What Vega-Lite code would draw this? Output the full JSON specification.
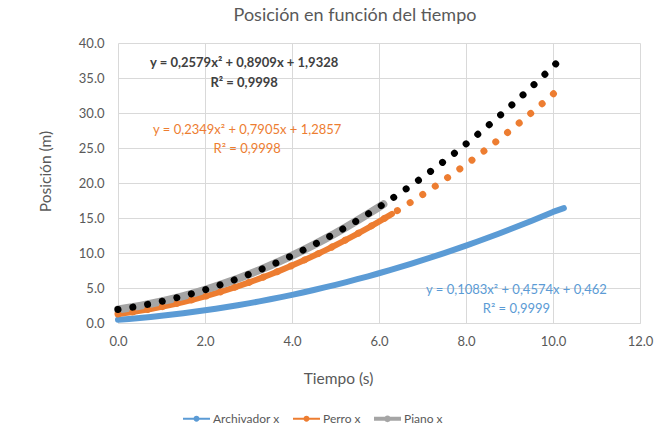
{
  "$schema": "https://vega.github.io/schema/vega-lite/v6.json",
  "width": 522,
  "height": 280,
  "autosize": {"type": "none"},
  "padding": {"left": 118, "top": 43, "right": 17, "bottom": 108},
  "background": "white",
  "title": {"text": "Posición en función del tiempo", "font": "Lato", "fontSize": 18, "fontWeight": "normal", "color": "#595959", "anchor": "middle", "dx": -24, "offset": 12},
  "config": {
    "view": {"stroke": null},
    "font": "Lato",
    "axis": {"labelFont": "Lato", "labelFontSize": 13, "labelColor": "#595959", "ticks": false, "domainColor": "#d9d9d9", "gridColor": "#d9d9d9", "gridWidth": 1, "titleFont": "Lato", "titleFontSize": 15.5, "titleColor": "#595959", "titleFontWeight": "normal", "labelOverlap": false, "labelFlush": false, "labelBound": false}
  },
  "datasets": {
    "series": [
      {"series": "Archivador x", "x": 0, "y": 0.462},
      {"series": "Archivador x", "x": 0.25, "y": 0.583},
      {"series": "Archivador x", "x": 0.5, "y": 0.718},
      {"series": "Archivador x", "x": 0.75, "y": 0.866},
      {"series": "Archivador x", "x": 1.0, "y": 1.028},
      {"series": "Archivador x", "x": 1.25, "y": 1.203},
      {"series": "Archivador x", "x": 1.5, "y": 1.392},
      {"series": "Archivador x", "x": 1.75, "y": 1.594},
      {"series": "Archivador x", "x": 2.0, "y": 1.81},
      {"series": "Archivador x", "x": 2.25, "y": 2.039},
      {"series": "Archivador x", "x": 2.5, "y": 2.282},
      {"series": "Archivador x", "x": 2.75, "y": 2.539},
      {"series": "Archivador x", "x": 3.0, "y": 2.809},
      {"series": "Archivador x", "x": 3.25, "y": 3.093},
      {"series": "Archivador x", "x": 3.5, "y": 3.39},
      {"series": "Archivador x", "x": 3.75, "y": 3.7},
      {"series": "Archivador x", "x": 4.0, "y": 4.024},
      {"series": "Archivador x", "x": 4.25, "y": 4.362},
      {"series": "Archivador x", "x": 4.5, "y": 4.713},
      {"series": "Archivador x", "x": 4.75, "y": 5.078},
      {"series": "Archivador x", "x": 5.0, "y": 5.457},
      {"series": "Archivador x", "x": 5.25, "y": 5.848},
      {"series": "Archivador x", "x": 5.5, "y": 6.254},
      {"series": "Archivador x", "x": 5.75, "y": 6.673},
      {"series": "Archivador x", "x": 6.0, "y": 7.105},
      {"series": "Archivador x", "x": 6.25, "y": 7.551},
      {"series": "Archivador x", "x": 6.5, "y": 8.011},
      {"series": "Archivador x", "x": 6.75, "y": 8.484},
      {"series": "Archivador x", "x": 7.0, "y": 8.971},
      {"series": "Archivador x", "x": 7.25, "y": 9.471},
      {"series": "Archivador x", "x": 7.5, "y": 9.984},
      {"series": "Archivador x", "x": 7.75, "y": 10.512},
      {"series": "Archivador x", "x": 8.0, "y": 11.052},
      {"series": "Archivador x", "x": 8.25, "y": 11.607},
      {"series": "Archivador x", "x": 8.5, "y": 12.175},
      {"series": "Archivador x", "x": 8.75, "y": 12.756},
      {"series": "Archivador x", "x": 9.0, "y": 13.351},
      {"series": "Archivador x", "x": 9.25, "y": 13.959},
      {"series": "Archivador x", "x": 9.5, "y": 14.581},
      {"series": "Archivador x", "x": 9.75, "y": 15.217},
      {"series": "Archivador x", "x": 10.0, "y": 15.866},
      {"series": "Archivador x", "x": 10.25, "y": 16.4},
      {"series": "Perro x", "x": 0, "y": 1.286},
      {"series": "Perro x", "x": 0.25, "y": 1.498},
      {"series": "Perro x", "x": 0.5, "y": 1.74},
      {"series": "Perro x", "x": 0.75, "y": 2.011},
      {"series": "Perro x", "x": 1.0, "y": 2.311},
      {"series": "Perro x", "x": 1.25, "y": 2.641},
      {"series": "Perro x", "x": 1.5, "y": 3.0},
      {"series": "Perro x", "x": 1.75, "y": 3.389},
      {"series": "Perro x", "x": 2.0, "y": 3.806},
      {"series": "Perro x", "x": 2.25, "y": 4.254},
      {"series": "Perro x", "x": 2.5, "y": 4.73},
      {"series": "Perro x", "x": 2.75, "y": 5.236},
      {"series": "Perro x", "x": 3.0, "y": 5.771},
      {"series": "Perro x", "x": 3.25, "y": 6.336},
      {"series": "Perro x", "x": 3.5, "y": 6.93},
      {"series": "Perro x", "x": 3.75, "y": 7.553},
      {"series": "Perro x", "x": 4.0, "y": 8.206},
      {"series": "Perro x", "x": 4.25, "y": 8.888},
      {"series": "Perro x", "x": 4.5, "y": 9.6},
      {"series": "Perro x", "x": 4.75, "y": 10.34},
      {"series": "Perro x", "x": 5.0, "y": 11.111},
      {"series": "Perro x", "x": 5.25, "y": 11.91},
      {"series": "Perro x", "x": 5.5, "y": 12.739},
      {"series": "Perro x", "x": 5.75, "y": 13.598},
      {"series": "Perro x", "x": 6.0, "y": 14.485},
      {"series": "Perro x", "x": 6.3, "y": 15.589},
      {"series": "Piano x", "x": 0, "y": 1.933},
      {"series": "Piano x", "x": 0.25, "y": 2.172},
      {"series": "Piano x", "x": 0.5, "y": 2.443},
      {"series": "Piano x", "x": 0.75, "y": 2.746},
      {"series": "Piano x", "x": 1.0, "y": 3.082},
      {"series": "Piano x", "x": 1.25, "y": 3.449},
      {"series": "Piano x", "x": 1.5, "y": 3.85},
      {"series": "Piano x", "x": 1.75, "y": 4.282},
      {"series": "Piano x", "x": 2.0, "y": 4.746},
      {"series": "Piano x", "x": 2.25, "y": 5.243},
      {"series": "Piano x", "x": 2.5, "y": 5.772},
      {"series": "Piano x", "x": 2.75, "y": 6.333},
      {"series": "Piano x", "x": 3.0, "y": 6.927},
      {"series": "Piano x", "x": 3.25, "y": 7.552},
      {"series": "Piano x", "x": 3.5, "y": 8.21},
      {"series": "Piano x", "x": 3.75, "y": 8.9},
      {"series": "Piano x", "x": 4.0, "y": 9.623},
      {"series": "Piano x", "x": 4.25, "y": 10.377},
      {"series": "Piano x", "x": 4.5, "y": 11.164},
      {"series": "Piano x", "x": 4.75, "y": 11.984},
      {"series": "Piano x", "x": 5.0, "y": 12.835},
      {"series": "Piano x", "x": 5.25, "y": 13.718},
      {"series": "Piano x", "x": 5.5, "y": 14.634},
      {"series": "Piano x", "x": 5.75, "y": 15.582},
      {"series": "Piano x", "x": 6.0, "y": 16.563},
      {"series": "Piano x", "x": 6.1, "y": 16.964}
    ],
    "notes": [
      {"series": "Piano x", "x": 2.9, "y": 37.1, "label": "y = 0,2579x² + 0,8909x + 1,9328"},
      {"series": "Piano x", "x": 2.9, "y": 34.3, "label": "R² = 0,9998"},
      {"series": "Perro x", "x": 2.97, "y": 27.6, "label": "y = 0,2349x² + 0,7905x + 1,2857"},
      {"series": "Perro x", "x": 2.97, "y": 24.9, "label": "R² = 0,9998"},
      {"series": "Archivador x", "x": 9.16, "y": 4.7, "label": "y = 0,1083x² + 0,4574x + 0,462"},
      {"series": "Archivador x", "x": 9.16, "y": 2.0, "label": "R² = 0,9999"}
    ]
  },
  "layer": [
    {
      "data": {"name": "series"},
      "transform": [{"filter": "datum.series !== 'Piano x'"}],
      "mark": {"type": "line", "strokeWidth": 6, "strokeCap": "round", "strokeJoin": "round"},
      "encoding": {
        "x": {"field": "x", "type": "quantitative", "scale": {"domain": [0, 12], "nice": false}, "axis": {"values": [0, 2, 4, 6, 8, 10, 12], "tickCount": 20, "format": ".1f", "labelPadding": 12, "title": "Tiempo (s)", "titleX": 220, "titleY": 55, "titleBaseline": "middle", "grid": true, "domain": true}},
        "y": {"field": "y", "type": "quantitative", "scale": {"domain": [0, 40], "nice": false}, "axis": {"values": [0, 5, 10, 15, 20, 25, 30, 35, 40], "tickCount": 20, "format": ".1f", "labelPadding": 14, "title": "Posición (m)", "titleX": -73, "titleY": 128, "titleBaseline": "middle", "titleAlign": "center", "grid": true, "domain": false}},
        "color": {"field": "series", "type": "nominal", "scale": {"domain": ["Archivador x", "Perro x", "Piano x"], "range": ["#5B9BD5", "#ED7D31", "#A5A5A5"]},
          "legend": {"orient": "none", "legendX": 65, "legendY": 362, "direction": "horizontal", "title": null, "symbolType": "M-1,-0.075H1V0.075H-1ZM0.22,0A0.22,0.22,0,1,1,-0.22,0A0.22,0.22,0,1,1,0.22,0Z", "symbolSize": 729, "symbolStrokeWidth": 0, "labelFont": "Lato", "labelFontSize": 12, "labelColor": "#595959", "labelOffset": 3, "columnPadding": 13,
            "encode": {"symbols": {"update": {"fill": {"signal": "scale('color', datum.value)"}, "fillOpacity": {"value": 1}, "size": {"value": 729}, "strokeWidth": {"value": 0}, "shape": {"signal": "datum.value === 'Piano x' ? 'M-1,-0.15H1V0.15H-1ZM0.25,0A0.25,0.25,0,1,1,-0.25,0A0.25,0.25,0,1,1,0.25,0Z' : 'M-1,-0.075H1V0.075H-1ZM0.22,0A0.22,0.22,0,1,1,-0.22,0A0.22,0.22,0,1,1,0.22,0Z'"}}}}}}
      }
    },
    {
      "data": {"name": "series"},
      "transform": [{"filter": "datum.series === 'Piano x'"}],
      "mark": {"type": "line", "color": "#A5A5A5", "strokeWidth": 8, "strokeCap": "round", "strokeJoin": "round"},
      "encoding": {
        "x": {"field": "x", "type": "quantitative"},
        "y": {"field": "y", "type": "quantitative"}
      }
    },
    {
      "data": {"name": "series"},
      "transform": [{"filter": "datum.series === 'Perro x'"}, {"regression": "y", "on": "x", "method": "poly", "order": 2, "extent": [0, 10.14]}],
      "mark": {"type": "line", "color": "#ED7D31", "strokeWidth": 7, "strokeDash": [0.01, 15], "strokeCap": "round"},
      "encoding": {"x": {"field": "x", "type": "quantitative"}, "y": {"field": "y", "type": "quantitative"}}
    },
    {
      "data": {"name": "series"},
      "transform": [{"filter": "datum.series === 'Piano x'"}, {"regression": "y", "on": "x", "method": "poly", "order": 2, "extent": [0, 10.16]}],
      "mark": {"type": "line", "color": "#000000", "strokeWidth": 7, "strokeDash": [0.01, 15], "strokeCap": "round"},
      "encoding": {"x": {"field": "x", "type": "quantitative"}, "y": {"field": "y", "type": "quantitative"}}
    },
    {
      "data": {"name": "notes"},
      "transform": [{"filter": "datum.series === 'Piano x'"}],
      "mark": {"type": "text", "font": "Lato", "fontSize": 13, "fontWeight": "bold", "color": "#404040", "align": "center", "baseline": "middle"},
      "encoding": {"x": {"field": "x", "type": "quantitative"}, "y": {"field": "y", "type": "quantitative"}, "text": {"field": "label"}}
    },
    {
      "data": {"name": "notes"},
      "transform": [{"filter": "datum.series === 'Perro x'"}],
      "mark": {"type": "text", "font": "Lato", "fontSize": 13, "color": "#ED7D31", "align": "center", "baseline": "middle"},
      "encoding": {"x": {"field": "x", "type": "quantitative"}, "y": {"field": "y", "type": "quantitative"}, "text": {"field": "label"}}
    },
    {
      "data": {"name": "notes"},
      "transform": [{"filter": "datum.series === 'Archivador x'"}],
      "mark": {"type": "text", "font": "Lato", "fontSize": 13, "color": "#5B9BD5", "align": "center", "baseline": "middle"},
      "encoding": {"x": {"field": "x", "type": "quantitative"}, "y": {"field": "y", "type": "quantitative"}, "text": {"field": "label"}}
    }
  ]
}
